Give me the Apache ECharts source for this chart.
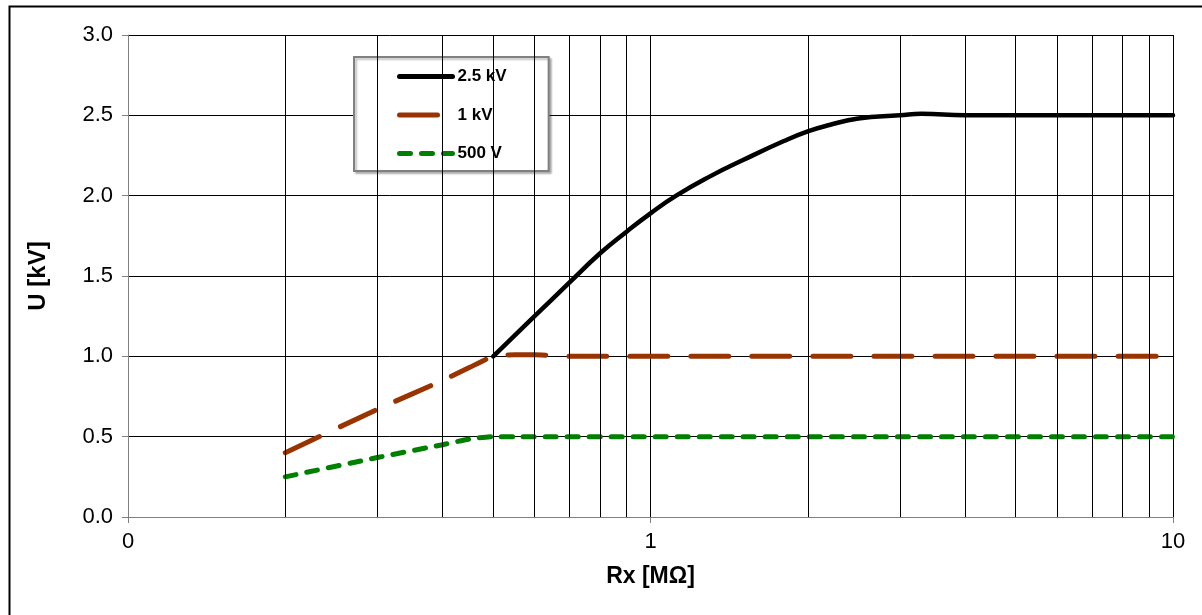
<!DOCTYPE html>
<html>
<head>
<meta charset="utf-8">
<script src="https://cdn.jsdelivr.net/npm/echarts@6/dist/echarts.min.js"></script>
<style>
html,body{margin:0;padding:0;background:#fff;}
#chart{width:1202px;height:615px;}
</style>
</head>
<body>
<div id="chart"></div>
<script>
// ---- data ----
var seriesNames = ['2.5 kV', '1 kV', '500 V'];
var xTickLabels = ['0', '1', '10'];
var minorGridX = [0.2, 0.3, 0.4, 0.5, 0.6, 0.7, 0.8, 0.9, 2, 3, 4, 5, 6, 7, 8, 9];

var kv25X = [0.5, 0.6, 0.7, 0.8, 0.9, 1.0, 1.12, 1.3, 1.5, 1.8, 2.0, 2.2, 2.5, 3.0, 3.3, 4.0, 10];
var kv25Y = [1.00, 1.25, 1.46, 1.64, 1.776, 1.89, 2.00, 2.12, 2.22, 2.34, 2.40, 2.44, 2.48, 2.50, 2.51, 2.50, 2.50];

var kv1X = [0.2, 0.3, 0.4, 0.45, 0.5, 0.55, 0.6, 0.7, 10];
var kv1Y = [0.40, 0.67, 0.85, 0.93, 1.00, 1.01, 1.01, 1.00, 1.00];

var v500X = [0.2, 0.3, 0.4, 0.45, 0.5, 0.55, 10];
var v500Y = [0.25, 0.37, 0.45, 0.485, 0.50, 0.50, 0.50];

function pairs(xs, ys) { return xs.map(function (x, i) { return [x, ys[i]]; }); }

var FONT = 'Liberation Sans';
var chart = echarts.init(document.getElementById('chart'), null, {renderer: 'canvas'});
chart.setOption({
  animation: false,
  backgroundColor: '#fff',
  graphic: [{
    type: 'rect', left: 7, top: 4, silent: true, z: -10,
    shape: {x: 7, y: 4, width: 1400, height: 800},
    style: {fill: 'none', stroke: '#000', lineWidth: 2}
  }],
  grid: {left: 128, top: 35, right: 29, bottom: 98, containLabel: false},
  legend: {
    show: true,
    data: seriesNames,
    orient: 'vertical',
    left: 354, top: 57,
    padding: [11, 42, 9, 43],
    itemGap: 21.5,
    itemWidth: 53, itemHeight: 14,
    backgroundColor: '#fff',
    borderColor: '#808080', borderWidth: 2,
    shadowColor: 'rgba(0,0,0,0.25)', shadowOffsetX: 2, shadowOffsetY: 2, shadowBlur: 2,
    textStyle: {fontFamily: FONT, fontSize: 17, fontWeight: 'bold', color: '#000', lineHeight: 17},
    itemStyle: {color: 'rgba(0,0,0,0)', borderColor: 'rgba(0,0,0,0)', borderWidth: 0},
    lineStyle: {width: 5, cap: 'round'}
  },
  xAxis: {
    type: 'log', logBase: 10, min: 0.1, max: 10,
    name: 'Rx [MΩ]', nameLocation: 'middle', nameGap: 48,
    nameTextStyle: {fontFamily: FONT, fontSize: 23, fontWeight: 'bold', color: '#000'},
    axisLine: {show: true, lineStyle: {color: '#808080', width: 1}},
    axisTick: {show: true, inside: false, length: 6, lineStyle: {color: '#808080'}},
    axisLabel: {
      margin: 14, fontFamily: FONT, fontSize: 22, color: '#000',
      formatter: function (v, i) { return xTickLabels[i] !== undefined ? xTickLabels[i] : ''; }
    },
    splitLine: {show: true, lineStyle: {color: '#000', width: 1}},
    minorTick: {show: false}, minorSplitLine: {show: false}
  },
  yAxis: {
    type: 'value', min: 0, max: 3, interval: 0.5,
    name: 'U [kV]', nameLocation: 'middle', nameGap: 78, nameRotate: 90,
    nameTextStyle: {fontFamily: FONT, fontSize: 24, fontWeight: 'bold', color: '#000'},
    axisLine: {show: true, lineStyle: {color: '#808080', width: 1}},
    axisTick: {show: true, inside: false, length: 6, lineStyle: {color: '#808080'}},
    axisLabel: {
      margin: 15, fontFamily: FONT, fontSize: 22, color: '#000',
      formatter: function (v) { return v.toFixed(1); }
    },
    splitLine: {show: true, lineStyle: {color: '#000', width: 1}}
  },
  series: [
    {
      name: 'minor-grid', type: 'line', data: [], z: 1, silent: true,
      markLine: {
        silent: true, symbol: ['none', 'none'], animation: false,
        label: {show: false},
        lineStyle: {color: '#000', width: 1, type: 'solid'},
        emphasis: {disabled: true},
        data: minorGridX.map(function (x) { return {xAxis: x}; })
      }
    },
    {
      name: seriesNames[0], type: 'line', z: 5,
      data: pairs(kv25X, kv25Y),
      showSymbol: false, symbol: 'none', smooth: 0.5,
      color: '#000',
      lineStyle: {color: '#000', width: 4.5, cap: 'round', join: 'round'}
    },
    {
      name: seriesNames[1], type: 'line', z: 4,
      data: pairs(kv1X, kv1Y),
      showSymbol: false, symbol: 'none', smooth: 0.2,
      color: '#993300',
      lineStyle: {color: '#993300', width: 5, type: [38, 23], cap: 'round', join: 'round'}
    },
    {
      name: seriesNames[2], type: 'line', z: 3,
      data: pairs(v500X, v500Y),
      showSymbol: false, symbol: 'none', smooth: 0.2,
      color: '#008000',
      lineStyle: {color: '#008000', width: 5, type: [11, 11], cap: 'round', join: 'round'}
    }
  ]
});
</script>
</body>
</html>
